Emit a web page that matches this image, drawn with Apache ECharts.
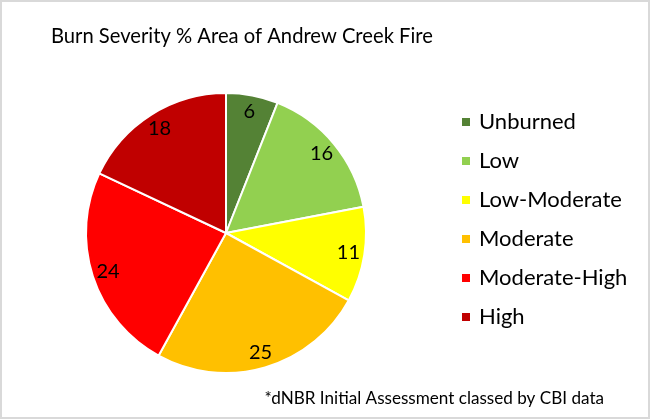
<!DOCTYPE html>
<html>
<head>
<meta charset="utf-8">
<script src="https://cdn.jsdelivr.net/npm/echarts@6/dist/echarts.min.js"></script>
<style>
html,body{margin:0;padding:0;background:#fff;}
#c{width:650px;height:419px;}
</style>
</head>
<body>
<div id="c"></div>
<script>
const categories = ['Unburned', 'Low', 'Low-Moderate', 'Moderate', 'Moderate-High', 'High'];
const values = [6, 16, 11, 25, 24, 18];
const colors = ['#548235', '#92D050', '#FFFF00', '#FFC000', '#FF0000', '#C00000'];
const titleText = 'Burn Severity % Area of Andrew Creek Fire';
const footnote = '*dNBR Initial Assessment classed by CBI data';

const font = 'Lato, "Open Sans", sans-serif';
const data = categories.map((n, i) => ({ name: n, value: values[i], itemStyle: { color: colors[i] } }));

const chart = echarts.init(document.getElementById('c'), null, { renderer: 'canvas' });
chart.setOption({
  animation: false,
  backgroundColor: '#fff',
  title: [{
    text: titleText, left: 46, top: 21,
    textStyle: { fontFamily: font, fontSize: 20.2, fontWeight: 'normal', color: '#000' }
  }, {
    text: footnote, right: 41, top: 385,
    textStyle: { fontFamily: font, fontSize: 17.1, fontWeight: 'normal', color: '#000' }
  }],
  legend: {
    orient: 'vertical', left: 455, top: 106,
    itemWidth: 10, itemHeight: 10, itemGap: 17, icon: 'rect',
    data: categories,
    textStyle: { fontFamily: font, fontSize: 22, color: '#000', padding: [0, 0, 0, 3] }
  },
  graphic: [{
    type: 'rect', shape: { x: 1, y: 1, width: 648, height: 417 },
    style: { fill: 'none', stroke: '#d9d9d9', lineWidth: 2 }, silent: true, z: 100
  }],
  series: [{
    type: 'pie', center: [226, 233], radius: 140, startAngle: 90, clockwise: true,
    itemStyle: { borderColor: '#fff', borderWidth: 2 },
    label: { show: false }, labelLine: { show: false },
    data: data
  }, {
    type: 'pie', center: [226, 233], radius: [100, 142], startAngle: 90, clockwise: true, silent: true,
    itemStyle: { color: 'rgba(0,0,0,0)', borderWidth: 0 },
    label: { show: true, position: 'inside', formatter: '{c}', fontFamily: font, fontSize: 20, color: '#000' },
    labelLine: { show: false },
    data: categories.map((n, i) => ({ name: n, value: values[i], itemStyle: { color: 'rgba(0,0,0,0)' } }))
  }]
});
</script>
</body>
</html>
